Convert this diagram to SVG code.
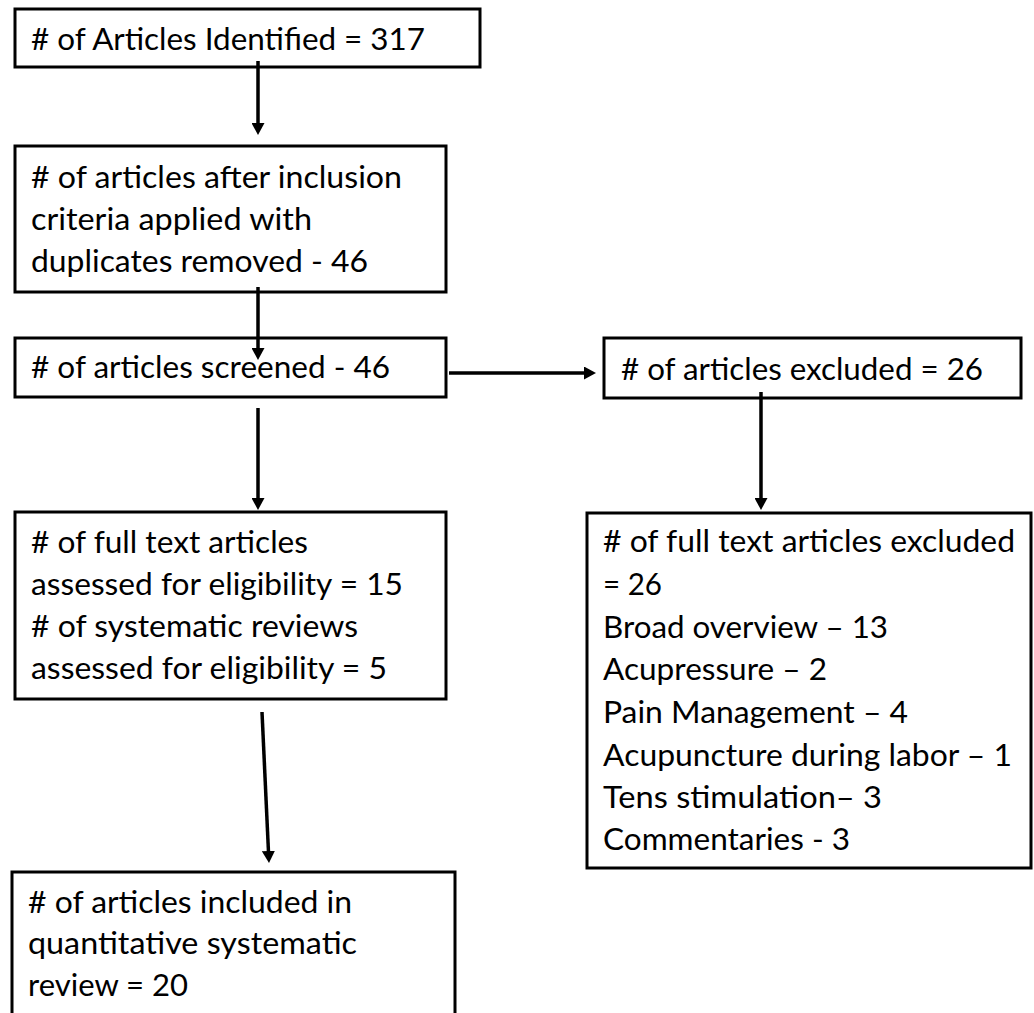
<svg xmlns="http://www.w3.org/2000/svg" width="1034" height="1013" viewBox="0 0 1034 1013">
  <style>
    .box { fill: #ffffff; stroke: #000000; stroke-width: 3; }
    .t { font-family: Lato, "Open Sans", "Liberation Sans", sans-serif; font-size: 30px; fill: #000000; }
    .arr { stroke: #000000; stroke-width: 3.5; fill: none; marker-end: url(#head); }
  </style>
  <defs>
    <marker id="head" markerUnits="userSpaceOnUse" markerWidth="12" markerHeight="13" refX="4" refY="6.5" orient="auto">
      <path d="M0,0 L12,6.5 L0,13 Z" fill="#000000"/>
    </marker>
  </defs>
  <rect width="1034" height="1013" fill="#ffffff"/>

  <g id="n1">
    <rect class="box" x="15" y="9" width="465" height="58"/>
    <text class="t" x="31" y="50" textLength="394" lengthAdjust="spacingAndGlyphs"># of Articles Identified = 317</text>
  </g>
  <g id="n2">
    <rect class="box" x="15" y="146" width="431" height="146"/>
    <text class="t" x="31" y="188" textLength="371" lengthAdjust="spacingAndGlyphs"># of articles after inclusion</text>
    <text class="t" x="31" y="230" textLength="281" lengthAdjust="spacingAndGlyphs">criteria applied with</text>
    <text class="t" x="31" y="272" textLength="337" lengthAdjust="spacingAndGlyphs">duplicates removed - 46</text>
  </g>
  <g id="n3">
    <rect class="box" x="15" y="338" width="431" height="59"/>
    <text class="t" x="31" y="378" textLength="359" lengthAdjust="spacingAndGlyphs"># of articles screened - 46</text>
  </g>
  <g id="n4">
    <rect class="box" x="15" y="512" width="431" height="187"/>
    <text class="t" x="31" y="553" textLength="277" lengthAdjust="spacingAndGlyphs"># of full text articles</text>
    <text class="t" x="31" y="595" textLength="372" lengthAdjust="spacingAndGlyphs">assessed for eligibility = 15</text>
    <text class="t" x="31" y="637" textLength="327" lengthAdjust="spacingAndGlyphs"># of systematic reviews</text>
    <text class="t" x="31" y="679" textLength="356" lengthAdjust="spacingAndGlyphs">assessed for eligibility = 5</text>
  </g>
  <g id="n5">
    <rect class="box" x="12" y="872" width="443" height="160"/>
    <text class="t" x="28" y="913" textLength="324" lengthAdjust="spacingAndGlyphs"># of articles included in</text>
    <text class="t" x="28" y="954" textLength="329" lengthAdjust="spacingAndGlyphs">quantitative systematic</text>
    <text class="t" x="28" y="996" textLength="160" lengthAdjust="spacingAndGlyphs">review = 20</text>
  </g>
  <g id="n6">
    <rect class="box" x="604" y="338" width="417" height="60"/>
    <text class="t" x="621" y="380" textLength="362" lengthAdjust="spacingAndGlyphs"># of articles excluded = 26</text>
  </g>
  <g id="n7">
    <rect class="box" x="587" y="513" width="444" height="355"/>
    <text class="t" x="603" y="552" textLength="412" lengthAdjust="spacingAndGlyphs"># of full text articles excluded</text>
    <text class="t" x="603" y="595" textLength="59" lengthAdjust="spacingAndGlyphs">= 26</text>
    <text class="t" x="603" y="638" textLength="285" lengthAdjust="spacingAndGlyphs">Broad overview – 13</text>
    <text class="t" x="603" y="680" textLength="224" lengthAdjust="spacingAndGlyphs">Acupressure – 2</text>
    <text class="t" x="603" y="723" textLength="305" lengthAdjust="spacingAndGlyphs">Pain Management – 4</text>
    <text class="t" x="603" y="766" textLength="409" lengthAdjust="spacingAndGlyphs">Acupuncture during labor – 1</text>
    <text class="t" x="603" y="808" textLength="279" lengthAdjust="spacingAndGlyphs">Tens stimulation– 3</text>
    <text class="t" x="603" y="850" textLength="247" lengthAdjust="spacingAndGlyphs">Commentaries - 3</text>
  </g>

  <g id="connectors">
    <line class="arr" x1="258" y1="61" x2="258" y2="127"/>
    <line class="arr" x1="258" y1="287" x2="258" y2="352"/>
    <line class="arr" x1="258" y1="408" x2="258" y2="502"/>
    <line class="arr" x1="262" y1="712" x2="268.63" y2="855"/>
    <line class="arr" x1="449" y1="373" x2="588" y2="373"/>
    <line class="arr" x1="761" y1="392" x2="761" y2="502"/>
  </g>
</svg>
